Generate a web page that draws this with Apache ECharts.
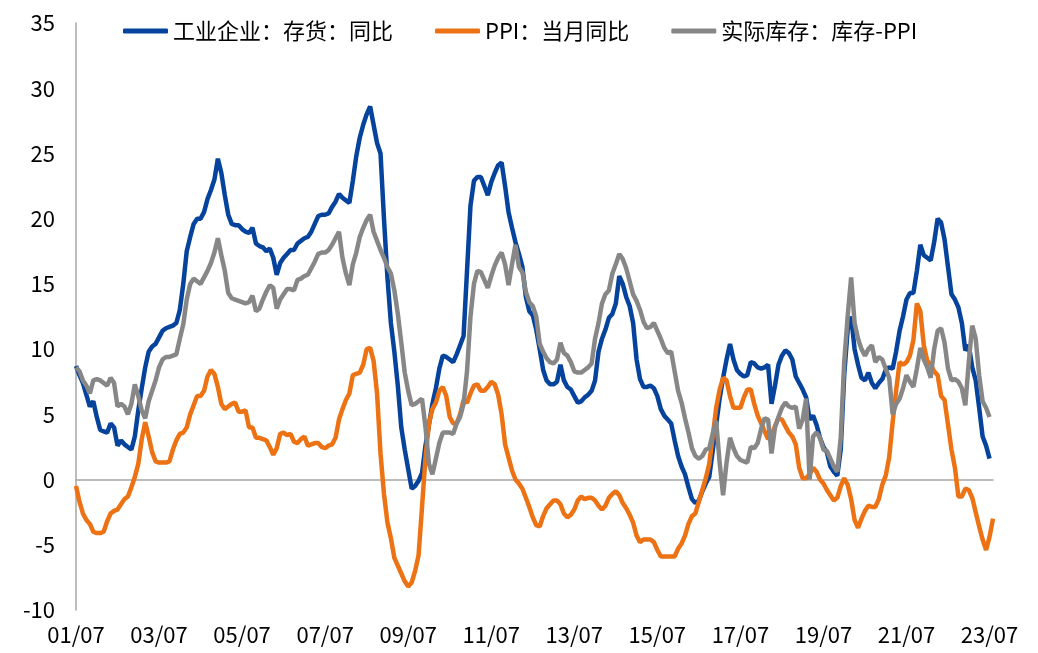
<!DOCTYPE html>
<html>
<head>
<meta charset="utf-8">
<title>库存与PPI</title>
<script src="https://cdn.jsdelivr.net/npm/echarts@6/dist/echarts.min.js"></script>
<style>
  html, body { margin: 0; padding: 0; background: #fff; }
  #myChart { width: 1038px; height: 653px; }
</style>
</head>
<body>
<div id="myChart"></div>
<script>
  // 月度数据 2001/07 - 2023/08
  var startYear = 2001, startMonth = 7, monthCount = 266;

  // 工业企业：存货：同比 (到 2023/07)
  var inventoryYoy = [
    8.7, 8.0, 7.4, 6.5, 5.6, 6.0, 4.8, 3.8, 3.7, 3.6,
    4.3, 4.0, 2.6, 3.0, 2.7, 2.5, 2.3, 3.3, 5.3, 7.0,
    8.6, 9.8, 10.2, 10.4, 10.9, 11.4, 11.6, 11.7, 11.8, 12.0,
    13.0, 15.0, 17.5, 18.6, 19.6, 20.0, 20.0, 20.5, 21.5, 22.2,
    23.0, 24.6, 23.5, 21.8, 20.3, 19.6, 19.5, 19.5, 19.2, 19.0,
    18.9, 19.3, 18.1, 17.9, 17.8, 17.5, 17.7, 17.0, 15.7, 16.6,
    17.0, 17.3, 17.6, 17.6, 18.1, 18.3, 18.5, 18.6, 19.0, 19.6,
    20.2, 20.3, 20.3, 20.4, 20.9, 21.3, 21.9, 21.6, 21.4, 21.2,
    22.9, 24.8, 26.2, 27.2, 28.0, 28.6, 27.2, 25.8, 25.0, 20.0,
    15.5, 12.0, 9.8, 7.2, 4.0, 2.3, 0.8, -0.7, -0.5, -0.1,
    0.5, 2.6, 4.2, 5.8, 7.0, 8.5, 9.5, 9.4, 9.2, 9.0,
    9.6, 10.3, 11.0, 16.0, 21.0, 22.9, 23.2, 23.2, 22.5, 21.8,
    22.8, 23.5, 24.1, 24.3, 22.5, 20.5, 19.3, 18.2, 17.3, 16.3,
    14.0, 12.9, 12.6, 11.5, 10.0, 8.4, 7.6, 7.3, 7.3, 7.5,
    8.8, 7.6, 7.1, 6.9, 6.4, 5.9, 6.0, 6.3, 6.5, 6.8,
    7.6, 9.8, 10.8, 11.5, 12.4, 12.7, 13.5, 15.6, 15.0, 14.0,
    13.3, 12.0, 9.2, 7.7, 7.1, 7.1, 7.2, 7.0, 6.4, 5.4,
    4.9, 4.6, 4.3, 3.0, 1.8, 1.0, 0.4, -0.6, -1.5, -1.8,
    -1.6, -0.9, -0.3, 0.2, 2.2, 4.2, 6.2, 7.8, 9.2, 10.4,
    9.2, 8.4, 8.1, 7.9, 8.0, 9.0, 8.9, 8.6, 8.5, 8.6,
    8.8, 5.8, 7.2, 8.8, 9.5, 9.9, 9.7, 9.2, 7.9, 7.4,
    6.9, 6.3, 4.6, 4.9, 4.2, 3.2, 2.5, 2.1, 1.0, 0.6,
    0.3, 2.3, 8.0, 11.5, 12.5, 10.0, 8.8, 7.8, 7.6, 8.2,
    7.4, 7.0, 7.4, 7.7, 8.4, 8.6, 8.5, 9.8, 11.4, 12.5,
    13.8, 14.3, 14.3, 16.0, 18.0, 17.2, 17.0, 16.8, 18.2, 20.0,
    19.7, 18.4, 16.3, 14.2, 13.8, 13.2, 12.0, 9.9, 10.3, 8.6,
    7.6, 5.5, 3.3, 2.6, 1.6
  ];

  // PPI：当月同比
  var ppiYoy = [
    -0.5, -1.7, -2.6, -3.1, -3.4, -4.0, -4.1, -4.1, -4.0, -3.2,
    -2.6, -2.4, -2.3, -1.9, -1.5, -1.3, -0.6, 0.2, 1.2, 3.1,
    4.4, 3.3, 2.1, 1.4, 1.3, 1.3, 1.3, 1.4, 2.3, 3.0,
    3.5, 3.6, 4.0, 5.0, 5.7, 6.4, 6.4, 6.8, 7.9, 8.4, 8.1, 7.1,
    5.8, 5.4, 5.6, 5.8, 5.9, 5.2, 5.2, 5.3, 4.0, 4.0, 3.2, 3.2,
    3.1, 3.0, 2.5, 1.9, 2.4, 3.5, 3.6, 3.4, 3.5, 2.9, 2.8, 3.1,
    3.3, 2.6, 2.7, 2.8, 2.8, 2.5, 2.4, 2.6, 2.7, 3.2, 4.6, 5.4,
    6.1, 6.6, 8.0, 8.1, 8.2, 8.8, 10.0, 10.1, 9.1, 6.6, 2.0, -1.1,
    -3.3, -4.5, -6.0, -6.6, -7.2, -7.8, -8.2, -7.9, -7.0, -5.8, -2.1, 1.7,
    4.3, 5.4, 5.9, 6.8, 7.1, 6.4, 4.8, 4.3, 4.3, 5.0, 6.1, 5.9,
    6.6, 7.2, 7.3, 6.8, 6.8, 7.1, 7.5, 7.3, 6.5, 5.0, 2.7, 1.7,
    0.7, 0.0, -0.3, -0.7, -1.4, -2.1, -2.9, -3.5, -3.6, -2.8, -2.2, -1.9,
    -1.6, -1.6, -1.9, -2.6, -2.9, -2.7, -2.3, -1.6, -1.3, -1.5, -1.4, -1.4,
    -1.6, -2.0, -2.3, -2.0, -1.4, -1.1, -0.9, -1.2, -1.8, -2.2, -2.7, -3.3,
    -4.3, -4.8, -4.6, -4.6, -4.6, -4.8, -5.4, -5.9, -5.9, -5.9, -5.9, -5.9,
    -5.3, -4.9, -4.3, -3.4, -2.8, -2.6, -1.7, -0.8, 0.1, 1.2, 3.3, 5.5,
    6.9, 7.8, 7.6, 6.4, 5.5, 5.5, 5.5, 6.3, 6.9, 6.9, 5.8, 4.9,
    4.3, 3.7, 3.1, 3.4, 4.1, 4.7, 4.6, 4.1, 3.6, 3.3, 2.7, 0.9,
    0.1, 0.1, 0.4, 0.9, 0.6, 0.0, -0.3, -0.8, -1.2, -1.6, -1.4, -0.5,
    0.1, -0.4, -1.5, -3.1, -3.7, -3.0, -2.4, -2.0, -2.1, -2.1, -1.5, -0.4,
    0.3, 1.7, 4.4, 6.8, 9.0, 8.8, 9.0, 9.5, 10.7, 13.5, 12.9, 10.3,
    9.1, 8.8, 8.3, 8.0, 6.4, 6.1, 4.2, 2.3, 0.9, -1.3, -1.3, -0.7,
    -0.8, -1.4, -2.5, -3.6, -4.6, -5.4, -4.4, -3.0
  ];

  // 实际库存：库存-PPI (到 2023/07)
  var realInventory = [
    8.6, 8.3, 7.6, 7.2, 6.6, 7.6, 7.7, 7.6, 7.4, 7.2,
    7.8, 7.4, 5.6, 5.8, 5.6, 5.0, 5.8, 7.3, 6.4, 5.3,
    4.7, 6.0, 6.8, 7.6, 8.6, 9.2, 9.4, 9.4, 9.5, 9.6,
    10.8, 11.9, 13.8, 15.0, 15.4, 15.2, 15.0, 15.5, 16.0, 16.6,
    17.4, 18.5, 17.2, 16.0, 14.3, 13.9, 13.8, 13.7, 13.6, 13.5,
    13.6, 14.1, 12.9, 13.1, 13.8, 14.4, 14.9, 14.7, 13.1, 13.8,
    14.2, 14.6, 14.6, 14.5, 15.3, 15.4, 15.6, 15.7, 16.2, 16.7,
    17.3, 17.4, 17.4, 17.6, 18.0, 18.5, 19.0, 17.0, 15.8, 14.9,
    16.5, 17.4, 18.6, 19.3, 19.9, 20.3, 19.0, 18.3, 17.6, 17.0,
    16.3, 15.8, 14.5, 12.7, 10.5, 8.2, 6.8, 5.7, 5.8, 6.0,
    6.2, 4.0, 1.2, 0.4, 1.6, 2.8, 3.6, 3.6, 3.6, 3.5,
    4.3, 4.8, 5.8, 8.3, 12.5, 15.0, 16.0, 15.9, 15.3, 14.7,
    15.6, 16.4, 17.0, 17.4, 16.5, 14.9, 16.5, 18.0, 16.3, 15.9,
    14.4, 13.6, 13.3, 12.5, 10.4, 9.8, 9.3, 9.0, 8.9, 9.2,
    10.5, 9.7, 9.5, 9.0, 8.3, 8.2, 8.2, 8.4, 8.6, 8.9,
    10.8, 12.0, 13.5, 14.2, 14.5, 15.8, 16.5, 17.3, 16.9, 16.2,
    15.2, 14.2, 13.7, 13.0, 12.1, 11.6, 11.7, 12.0, 11.4, 10.8,
    10.1, 9.7, 9.8, 8.3, 6.8, 5.9, 4.7, 3.6, 2.4, 1.8,
    1.6, 1.8, 2.3, 2.4, 3.5, 4.5, 1.3, -1.2, 1.3, 3.2,
    2.4, 1.8, 1.5, 1.4, 1.3, 2.5, 2.4, 2.8, 3.9, 4.7,
    4.6, 2.0, 4.0, 4.8, 5.5, 5.9, 5.6, 5.5, 5.6, 3.9,
    4.6, 6.2, 0.0, 3.3, 3.6, 3.2, 2.3, 2.2, 1.6, 1.0,
    0.6, 3.2, 9.0, 12.5, 15.5, 12.0, 10.8, 10.0, 9.5, 10.0,
    10.3, 9.0, 9.4, 9.2, 8.5, 7.8, 5.0, 5.8, 6.2, 7.0,
    8.0, 7.5, 7.1, 8.5, 10.1, 9.2, 8.6, 7.8, 10.0, 11.4,
    11.6, 10.5, 8.5, 7.6, 7.7, 7.5, 7.0, 5.7, 9.0, 11.8,
    10.8, 8.0, 6.0, 5.5, 4.8
  ];

  // 横轴类目 YY/MM
  var months = [];
  for (var i = 0; i < monthCount; i++) {
    var m = startMonth - 1 + i;
    var yy = (startYear + Math.floor(m / 12)) % 100;
    var mm = m % 12 + 1;
    months.push((yy < 10 ? '0' : '') + yy + '/' + (mm < 10 ? '0' : '') + mm);
  }

  var fontName = '"Noto Sans CJK SC", "Noto Sans", sans-serif';
  var lineColors = ['#05439c', '#ec7213', '#878787'];

  var option = {
    animation: false,
    color: lineColors,
    legend: {
      top: 15,
      left: 118,
      itemWidth: 45,
      itemHeight: 5,
      itemGap: 42,
      icon: 'roundRect',
      textStyle: { fontFamily: fontName, fontSize: 22, color: '#000' },
      data: ['工业企业：存货：同比', 'PPI：当月同比', '实际库存：库存-PPI']
    },
    grid: {
      left: 76,
      right: 45,
      top: 23,
      bottom: 43
    },
    xAxis: [
      {
        // 底部标签
        type: 'category',
        data: months,
        boundaryGap: false,
        axisLine: { show: false, onZero: false },
        axisTick: { show: false },
        axisLabel: {
          interval: 23,
          margin: 14,
          fontFamily: fontName,
          fontSize: 22,
          color: '#000'
        }
      },
      {
        // 零轴线
        type: 'category',
        data: months,
        boundaryGap: false,
        position: 'bottom',
        axisLine: { show: true, onZero: true, lineStyle: { color: '#a6a6a6', width: 1.5 } },
        axisTick: { show: false },
        axisLabel: { show: false }
      }
    ],
    yAxis: {
      type: 'value',
      min: -10,
      max: 35,
      interval: 5,
      splitLine: { show: false },
      axisTick: { show: false },
      axisLine: { show: true, lineStyle: { color: '#a6a6a6', width: 1.5 } },
      axisLabel: {
        margin: 21,
        fontFamily: fontName,
        fontSize: 22,
        color: '#000'
      }
    },
    series: [
      {
        name: '工业企业：存货：同比',
        type: 'line',
        data: inventoryYoy,
        symbol: 'none',
        lineStyle: { width: 4.5, color: lineColors[0] }
      },
      {
        name: 'PPI：当月同比',
        type: 'line',
        data: ppiYoy,
        symbol: 'none',
        lineStyle: { width: 4.5, color: lineColors[1] }
      },
      {
        name: '实际库存：库存-PPI',
        type: 'line',
        data: realInventory,
        symbol: 'none',
        lineStyle: { width: 4.5, color: lineColors[2] }
      }
    ]
  };

  var myChart = echarts.init(document.getElementById('myChart'));
  myChart.setOption(option);
</script>
</body>
</html>
